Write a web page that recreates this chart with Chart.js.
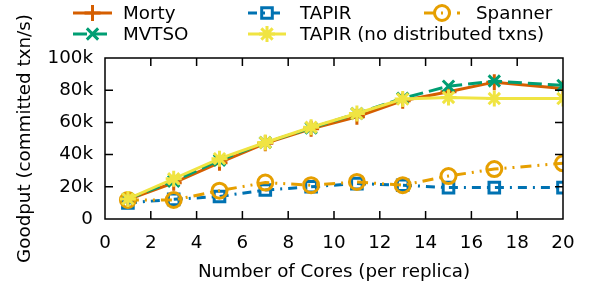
<!DOCTYPE html>
<html>
<head>
<meta charset="utf-8">
<script src="https://cdn.jsdelivr.net/npm/chart.js@4/dist/chart.umd.min.js"></script>
<style>
  body { margin: 0; background: #fff; }
</style>
</head>
<body>
<canvas id="goodput-chart" width="595" height="288"></canvas>
<script>
// cores per replica
const cores = [1, 3, 5, 7, 9, 11, 13, 15, 17, 20];

// goodput, committed txn/s
const morty = [12000, 22500, 35000, 47000, 56000, 63500, 73500, 79000, 85000, 81000];
const mvtso = [12500, 23500, 36500, 47500, 56500, 65500, 75000, 82500, 85700, 83000];
const tapir = [10000, 12200, 14000, 18000, 20000, 22000, 21000, 19500, 19500, 19500];
const spanner = [11800, 11800, 17600, 22600, 21000, 23000, 21000, 26700, 31000, 34600];
const tapirNoDist = [12500, 25000, 37500, 47500, 57000, 65500, 74500, 75500, 74800, 74800];

const yTicks = [0, 20000, 40000, 60000, 80000, 100000];
const xTicks = [0, 2, 4, 6, 8, 10, 12, 14, 16, 18, 20];

const FONT = 'DejaVu Sans';
const FSIZE = 18.3;

function pts(ys) {
    return cores.map((c, i) => ({x: c, y: ys[i]}));
}

function series(label, ys, color, style, dash, order, radius) {
    return {
        label: label,
        data: pts(ys),
        borderColor: color,
        backgroundColor: 'rgba(0,0,0,0)',
        borderWidth: 3,
        borderDash: dash,
        pointStyle: style,
        pointRadius: radius,
        pointBorderWidth: 3,
        pointBorderColor: color,
        pointBackgroundColor: 'rgba(0,0,0,0)',
        order: order,
        fill: false,
        tension: 0
    };
}

const datasets = [
    series('Morty', morty, '#d55e00', 'cross', [], 5, 8),
    series('MVTSO', mvtso, '#009e73', 'crossRot', [14, 6], 4, 8),
    series('TAPIR', tapir, '#0072b2', 'rect', [9, 6, 2, 6], 3, 7.5),
    series('TAPIR (no distributed txns)', tapirNoDist, '#f0e442', 'star', [], 1, 8),
    series('Spanner', spanner, '#e69f00', 'circle', [11, 6, 2, 6, 2, 6], 2, 7.5)
];

// legend slots, gnuplot style (column-wise)
const legendSlots = [
    {x1: 73, x2: 112, tx: 123, y: 13},
    {x1: 73, x2: 112, tx: 123, y: 34},
    {x1: 248, x2: 286, tx: 300, y: 13},
    {x1: 248, x2: 286, tx: 300, y: 34},
    {x1: 424, x2: 460, tx: 476, y: 13}
];

function drawMarker(ctx, ds, x, y) {
    Chart.helpers.drawPoint(ctx, {
        pointStyle: ds.pointStyle,
        radius: ds.pointRadius,
        rotation: 0,
        borderWidth: ds.pointBorderWidth
    }, x, y);
}

const frame = {
    id: 'frame',
    afterDraw(chart) {
        const ctx = chart.ctx;
        const a = chart.chartArea;
        const xs = chart.scales.x, ys = chart.scales.y;
        ctx.save();
        ctx.strokeStyle = '#000';
        ctx.lineWidth = 1.5;
        ctx.beginPath();
        // inward tick marks, mirrored on the opposite side
        xTicks.forEach(v => {
            const px = xs.getPixelForValue(v);
            if (v === 0 || v === 20) return;
            ctx.moveTo(px, a.bottom); ctx.lineTo(px, a.bottom - 8);
            ctx.moveTo(px, a.top); ctx.lineTo(px, a.top + 8);
        });
        yTicks.forEach(v => {
            const py = ys.getPixelForValue(v);
            if (v === 0 || v === 100000) return;
            ctx.moveTo(a.left, py); ctx.lineTo(a.left + 8, py);
            ctx.moveTo(a.right, py); ctx.lineTo(a.right - 8, py);
        });
        ctx.stroke();
        ctx.strokeRect(a.left, a.top, a.right - a.left, a.bottom - a.top);

        // legend
        ctx.font = FSIZE + 'px "' + FONT + '"';
        ctx.textBaseline = 'middle';
        ctx.textAlign = 'left';
        chart.data.datasets.forEach((ds, i) => {
            const s = legendSlots[i];
            ctx.strokeStyle = ds.borderColor;
            ctx.lineWidth = 3;
            ctx.setLineDash(ds.borderDash);
            ctx.beginPath();
            ctx.moveTo(s.x1, s.y);
            ctx.lineTo(s.x2, s.y);
            ctx.stroke();
            ctx.setLineDash([]);
            ctx.fillStyle = 'rgba(0,0,0,0)';
            drawMarker(ctx, ds, (s.x1 + s.x2) / 2, s.y);
            ctx.fillStyle = '#000';
            ctx.fillText(ds.label, s.tx, s.y + 1);
        });
        ctx.restore();
    }
};

const ctx = document.querySelector('#goodput-chart').getContext('2d');
const chart = new Chart(ctx, {
    type: 'line',
    data: { datasets: datasets },
    options: {
        responsive: false,
        animation: false,
        layout: { padding: { top: 58, right: 32, left: 0, bottom: 0 } },
        plugins: { legend: { display: false }, tooltip: { enabled: false } },
        scales: {
            x: {
                type: 'linear',
                min: 0,
                max: 20,
                afterBuildTicks: s => { s.ticks = xTicks.map(v => ({value: v})); },
                afterFit: s => { s.height = 69; },
                grid: { display: false, drawTicks: false },
                border: { display: false },
                ticks: { color: '#000', font: { family: FONT, size: FSIZE }, padding: 13, maxRotation: 0 },
                title: { display: true, text: 'Number of Cores (per replica)', color: '#000',
                         font: { family: FONT, size: FSIZE }, padding: { top: 6, bottom: 5 } }
            },
            y: {
                min: 0,
                max: 100000,
                afterBuildTicks: s => { s.ticks = yTicks.map(v => ({value: v})); },
                afterFit: s => { s.width = 105; },
                grid: { display: false, drawTicks: false },
                border: { display: false },
                ticks: { color: '#000', font: { family: FONT, size: FSIZE }, padding: 12,
                         callback: v => v === 0 ? '0' : (v / 1000) + 'k' },
                title: { display: true, text: 'Goodput (committed txn/s)', color: '#000',
                         font: { family: FONT, size: FSIZE }, padding: { top: 14, bottom: 4 } }
            }
        }
    },
    plugins: [frame]
});
</script>
</body>
</html>
